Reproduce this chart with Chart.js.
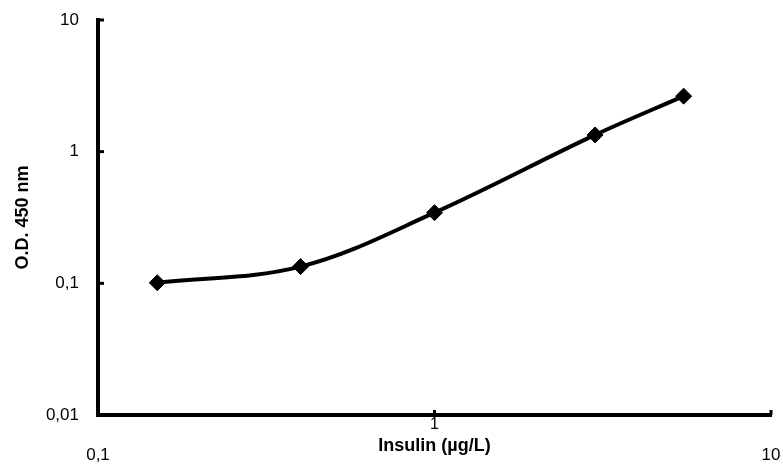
<!DOCTYPE html>
<html>
<head>
<meta charset="utf-8">
<script src="https://cdn.jsdelivr.net/npm/chart.js@4"></script>
<style>
  html, body { margin: 0; padding: 0; background: #fff; }
  #wrap { width: 783px; height: 476px; }
</style>
</head>
<body>
<div id="wrap"><canvas id="c" width="783" height="476"></canvas></div>
<script>
// Data
const insulin = [0.15, 0.4, 1, 3, 5.5];          // µg/L
const od450   = [0.101, 0.134, 0.344, 1.34, 2.64];
const xTickValues = [0.1, 1, 10];
const xTickLabels = ['0,1', '1', '10'];
const yTickValues = [0.01, 0.1, 1, 10];
const yTickLabels = ['0,01', '0,1', '1', '10'];
const xTitle = 'Insulin (µg/L)';
const yTitle = 'O.D. 450 nm';

const FONT = '"Liberation Sans Narrow", "Arial Narrow", "Liberation Sans", sans-serif';

const points = insulin.map((x, i) => ({ x: x, y: od450[i] }));

const insideTicks = {
  id: 'insideTicks',
  afterDraw(chart) {
    const ctx = chart.ctx;
    const xs = chart.scales.x, ys = chart.scales.y;
    const area = chart.chartArea;
    ctx.save();
    ctx.strokeStyle = '#000';
    ctx.lineWidth = 3;
    yTickValues.forEach(v => {
      const py = ys.getPixelForValue(v);
      ctx.beginPath();
      ctx.moveTo(area.left, py);
      ctx.lineTo(area.left + 6, py);
      ctx.stroke();
    });
    xTickValues.forEach(v => {
      const px = xs.getPixelForValue(v);
      ctx.beginPath();
      ctx.moveTo(px, area.bottom);
      ctx.lineTo(px, area.bottom - 5);
      ctx.stroke();
    });
    // the "1" label sits raised just above the axis title
    ctx.fillStyle = '#000';
    ctx.font = '16px ' + FONT;
    ctx.textAlign = 'center';
    ctx.textBaseline = 'middle';
    ctx.fillText(xTickLabels[1], xs.getPixelForValue(1), area.bottom + 10);
    ctx.restore();
  }
};

new Chart(document.getElementById('c'), {
  type: 'line',
  data: {
    datasets: [{
      data: points,
      borderColor: '#000',
      backgroundColor: '#000',
      borderWidth: 4,
      tension: 0.35,
      pointStyle: 'rectRot',
      pointRadius: 8,
      pointBorderWidth: 1,
      pointBackgroundColor: '#000',
      pointBorderColor: '#000',
      fill: false
    }]
  },
  options: {
    responsive: false,
    animation: false,
    layout: { padding: { top: 20, right: 12, left: 0, bottom: 0 } },
    plugins: { legend: { display: false }, tooltip: { enabled: false } },
    scales: {
      x: {
        type: 'logarithmic',
        min: 0.1, max: 10,
        afterBuildTicks(s) { s.ticks = xTickValues.map(v => ({ value: v })); },
        afterFit(s) { s.height = 61; s.paddingLeft = 0; s.paddingRight = 0; },
        grid: { display: true, drawOnChartArea: false, drawTicks: false, color: 'rgba(0,0,0,0)' },
        border: { display: true, color: '#000', width: 4 },
        ticks: {
          color: '#000',
          font: { family: FONT, size: 17 },
          padding: 30,
          maxRotation: 0,
          autoSkip: false,
          callback: (v) => { const i = xTickValues.indexOf(v); return i === 1 ? '' : (i >= 0 ? xTickLabels[i] : ''); }
        },
        title: {
          display: true,
          text: xTitle,
          color: '#000',
          font: { family: FONT, size: 18, weight: 'bold' },
          padding: { top: 0, bottom: 19 }
        }
      },
      y: {
        type: 'logarithmic',
        min: 0.01, max: 10,
        afterBuildTicks(s) { s.ticks = yTickValues.map(v => ({ value: v })); },
        afterFit(s) { s.width = 98; s.paddingTop = 0; s.paddingBottom = 0; },
        grid: { display: true, drawOnChartArea: false, drawTicks: false, color: 'rgba(0,0,0,0)' },
        border: { display: true, color: '#000', width: 4 },
        ticks: {
          color: '#000',
          font: { family: FONT, size: 17 },
          padding: 19,
          autoSkip: false,
          callback: (v) => { const i = yTickValues.indexOf(v); return i >= 0 ? yTickLabels[i] : ''; }
        },
        title: {
          display: true,
          text: yTitle,
          color: '#000',
          font: { family: FONT, size: 18, weight: 'bold' },
          padding: { top: 12, bottom: 0 }
        }
      }
    }
  },
  plugins: [insideTicks]
});
</script>
</body>
</html>
